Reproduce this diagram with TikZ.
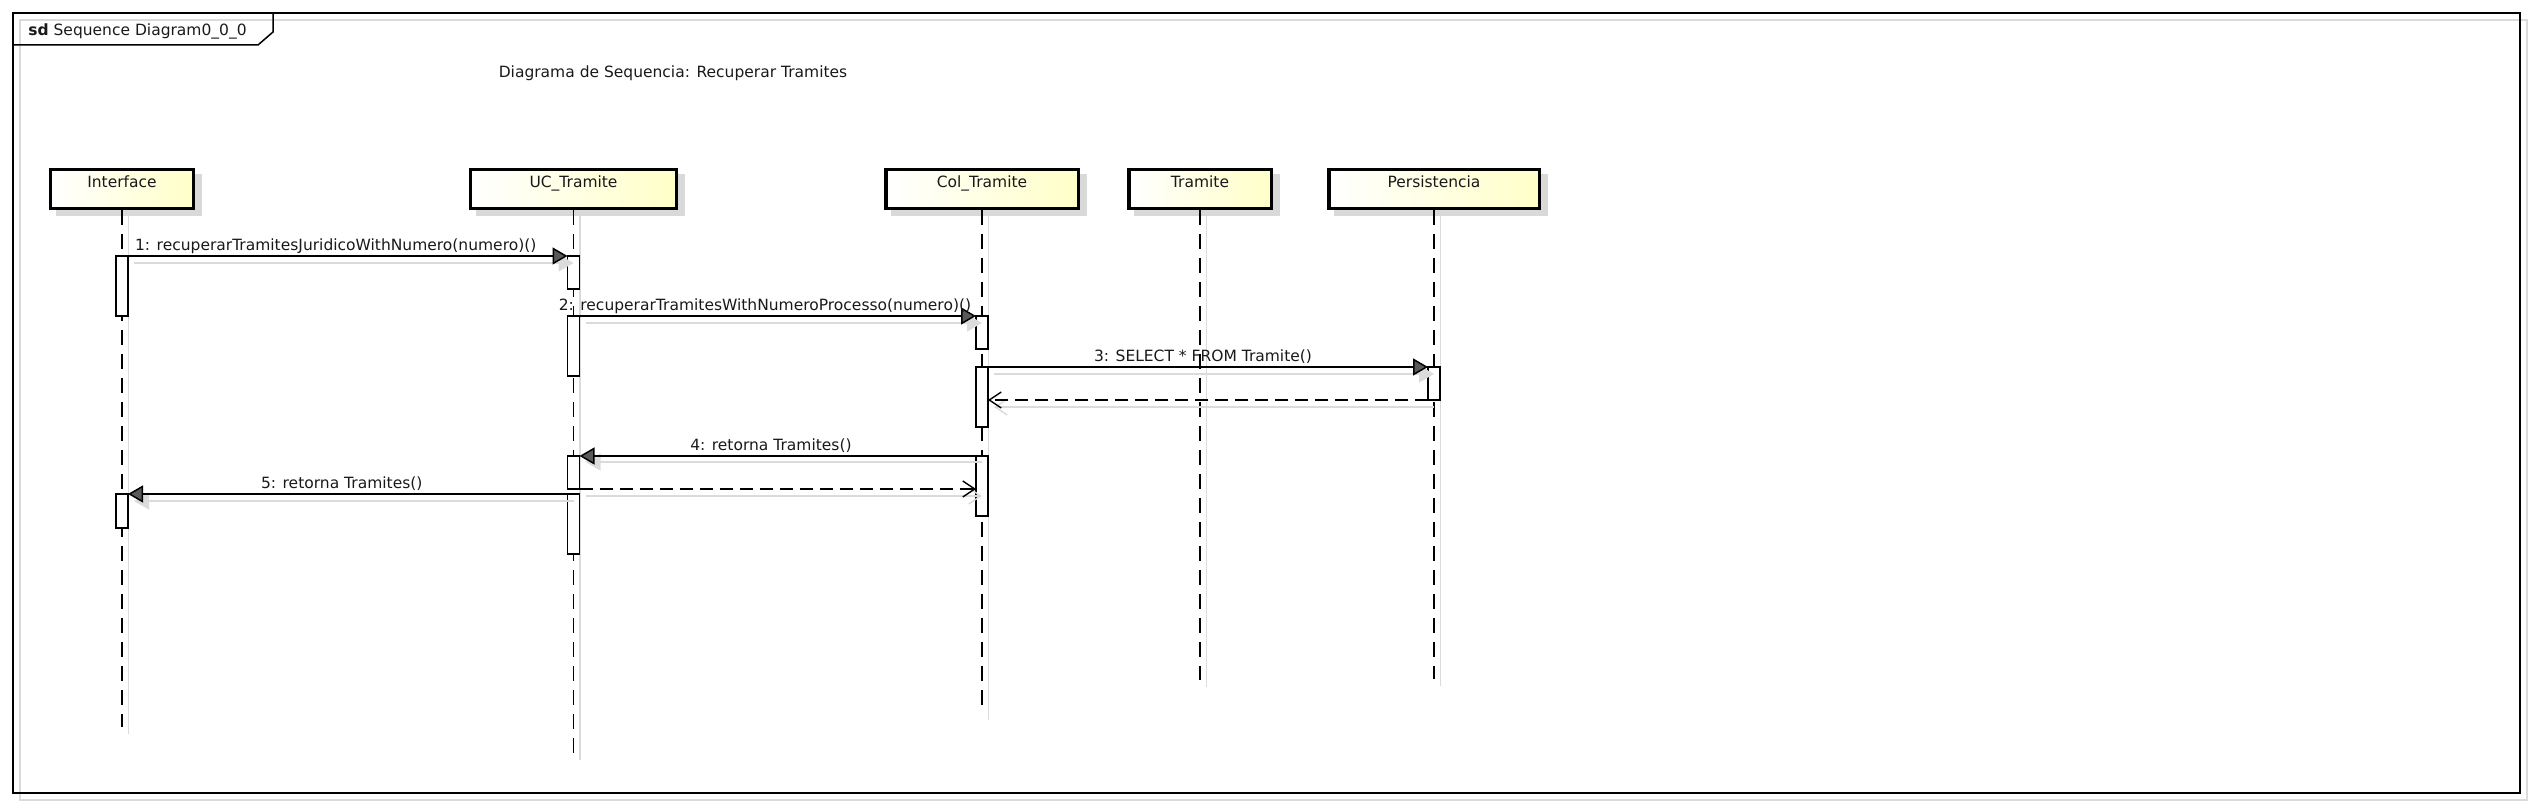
\documentclass[tikz,border=0pt]{standalone}
\usepackage{fontspec}
\setmainfont{DejaVu Sans}
\usetikzlibrary{arrows.meta,calc}
\definecolor{shadowc}{gray}{0.85}
\definecolor{lineshadow}{gray}{0.86}
\definecolor{boxyellow}{RGB}{255,255,200}
\definecolor{headfill}{gray}{0.35}
\begin{document}
\begin{tikzpicture}[x=0.5pt,y=-0.5pt,
  txt/.style={font=\fontsize{7.75pt}{9pt}\selectfont, inner sep=0pt, text=black!90},
  partbox/.style={draw=black, line width=1.7pt, left color=white, right color=boxyellow, minimum height=19.3pt, anchor=north, inner sep=0pt},
  act/.style={draw=black, fill=white, line width=0.6pt, minimum width=6pt, anchor=north, inner sep=0pt, outer sep=0pt},
  lifeline/.style={line width=0.6pt, dash pattern=on 7.5pt off 4.5pt},
  llshadow/.style={line width=0.7pt, draw=lineshadow},
  msg/.style={line width=0.75pt, -{Triangle[length=7.5pt,width=8.5pt,fill=headfill]}},
  msgsh/.style={line width=0.75pt, draw=lineshadow, -{Triangle[length=7.5pt,width=8.5pt,fill=lineshadow]}},
  ret/.style={line width=0.75pt, dash pattern=on 6.5pt off 3.5pt, -{Straight Barb[length=6pt,width=8pt,line width=0.7pt]}},
  retsh/.style={line width=0.75pt, draw=lineshadow, -{Straight Barb[length=6pt,width=8pt,line width=0.7pt]}},
  mlabel/.style={txt, anchor=base, yshift=2.75pt}
]
\useasboundingbox (0,0) rectangle (2533,806);
% frame
\draw[lineshadow, line width=0.8pt] (20,20) rectangle (2527,800);
\draw[line width=0.75pt] (13,13) rectangle (2520,793);
\draw[line width=0.75pt] (13,45) -- (258,45) -- (273,32) -- (273,13);
\node[txt, anchor=base west] (sdlabel) at (28,36) {\textbf{sd} Sequence Diagram0\_0\_0};
\node[txt, anchor=base] (title) at (673,78) {Diagrama de Sequencia: Recuperar Tramites};

% participants
\node[partbox, minimum width=71.7pt] (pInterface) at (122,168) {};
\node[partbox, minimum width=103.2pt] (pUC) at (573.5,168) {};
\node[partbox, minimum width=96.2pt] (pCol) at (982,168) {};
\node[partbox, minimum width=71.2pt] (pTramite) at (1200,168) {};
\node[partbox, minimum width=105.2pt] (pPers) at (1434,168) {};
\foreach \p in {pInterface,pUC,pCol,pTramite,pPers}{
  \fill[shadowc] ($(\p.south west)+(7,0)$) rectangle ($(\p.south east)+(7,6)$);
  \fill[shadowc] ($(\p.north east)+(0,6)$) rectangle ($(\p.south east)+(7,6)$);
}
\node[txt, anchor=base] (tInterface) at ($(pInterface.north)+(0,20)$) {Interface};
\node[txt, anchor=base] (tUC) at ($(pUC.north)+(0,20)$) {UC\_Tramite};
\node[txt, anchor=base] (tCol) at ($(pCol.north)+(0,20)$) {Col\_Tramite};
\node[txt, anchor=base] (tTramite) at ($(pTramite.north)+(0,20)$) {Tramite};
\node[txt, anchor=base] (tPers) at ($(pPers.north)+(0,20)$) {Persistencia};

% lifeline ends
\coordinate (eInterface) at (122,727);
\coordinate (eUC) at (573.5,753);
\coordinate (eCol) at (982,713);
\coordinate (eTramite) at (1200,680);
\coordinate (ePers) at (1434,679);
\foreach \p/\e in {pInterface/eInterface,pUC/eUC,pCol/eCol,pTramite/eTramite,pPers/ePers}{
  \draw[llshadow] ($(\p.south)+(6.5,6)$) -- ($(\e)+(6.5,7)$);
  \draw[lifeline] (\p.south) -- (\e);
}

% activations
\node[act, minimum height=30pt] (ia1) at (122,256) {};
\node[act, minimum height=17pt] (ia2) at (122,494) {};
\node[act, minimum height=16.5pt] (ua1) at (573.5,256) {};
\node[act, minimum height=30pt] (ua2) at (573.5,316) {};
\node[act, minimum height=16.5pt] (ua3) at (573.5,456) {};
\node[act, minimum height=30pt] (ua4) at (573.5,494) {};
\node[act, minimum height=16.5pt] (ca1) at (982,316) {};
\node[act, minimum height=30pt] (ca2) at (982,367) {};
\node[act, minimum height=30pt] (ca3) at (982,456) {};
\node[act, minimum height=16.5pt] (pa1) at (1434,367) {};

% message shadows
\draw[msgsh] ($(ia1.north east)+(6,7)$) -- ($(ua1.north west)+(6,7)$);
\draw[msgsh] ($(ua2.north east)+(6,7)$) -- ($(ca1.north west)+(6,7)$);
\draw[msgsh] ($(ca2.north east)+(6,7)$) -- ($(pa1.north west)+(6,7)$);
\draw[retsh] ($(pa1.south west)+(6,7)$) -- ($(pa1.south west -| ca2.east)+(6,7)$);
\draw[msgsh] ($(ca3.north west)+(6,6)$) -- ($(ua3.north east)+(6,6)$);
\draw[retsh] ($(ua3.south east)+(6,7)$) -- ($(ua3.south east -| ca3.west)+(6,7)$);
\draw[msgsh] ($(ua4.north west)+(6,7)$) -- ($(ia2.north east)+(6,7)$);

% messages
\draw[msg] (ia1.north east) -- node[mlabel, xshift=-6pt] (l1) {1: recuperarTramitesJuridicoWithNumero(numero)()} (ua1.north west);
\draw[msg] (ua2.north east) -- node[mlabel, xshift=-6.4pt] (l2) {2: recuperarTramitesWithNumeroProcesso(numero)()} (ca1.north west);
\draw[msg] (ca2.north east) -- node[mlabel, xshift=-2.5pt] (l3) {3: SELECT * FROM Tramite()} (pa1.north west);
\draw[ret] (pa1.south west) -- (pa1.south west -| ca2.east);
\draw[msg] (ca3.north west) -- node[mlabel, xshift=-3.4pt] (l4) {4: retorna Tramites()} (ua3.north east);
\draw[ret] (ua3.south east) -- (ua3.south east -| ca3.west);
\draw[msg] (ua4.north west) -- node[mlabel, xshift=-3pt] (l5) {5: retorna Tramites()} (ia2.north east);
\end{tikzpicture}
\end{document}
